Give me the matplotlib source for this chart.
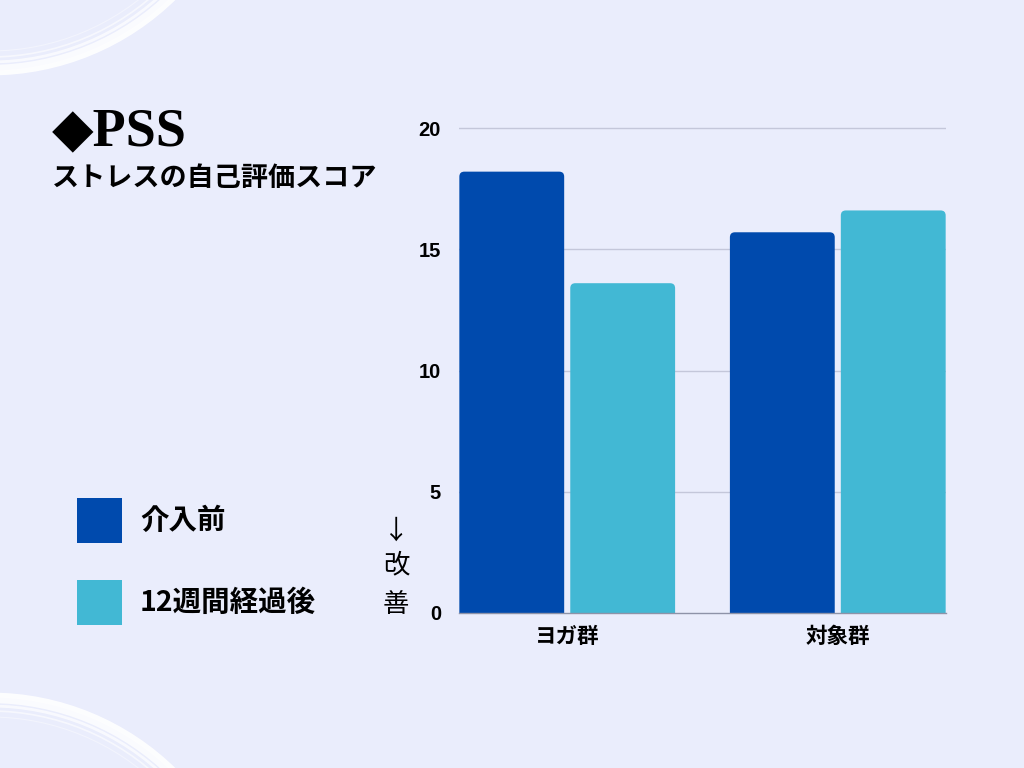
import numpy as np
import matplotlib
matplotlib.use("Agg")
import matplotlib.pyplot as plt
from matplotlib.patches import FancyBboxPatch, Rectangle, Circle

# ---------------- data ----------------
groups = ["ヨガ群", "対象群"]
series_names = ["介入前", "12週間経過後"]
before = [18.2, 15.7]
after = [13.6, 16.6]
yticks = [0, 5, 10, 15, 20]

# ---------------- style ----------------
bg = "#EAEDFC"
c_dark = "#004AAD"
c_light = "#42B8D4"
jp = ["Noto Sans CJK JP", "DejaVu Sans"]
W, H = 1024, 768

plt.rcParams["font.family"] = jp

fig = plt.figure(figsize=(W / 100, H / 100), dpi=100, facecolor=bg)

# decoration (pixel coords)
deco = fig.add_axes([0, 0, 1, 1], zorder=0)
deco.set_xlim(0, W)
deco.set_ylim(H, 0)
deco.axis("off")
for cy in (-190, H + 190):
    for r, lw, a in [(263, 3.5, 0.9), (258, 4.5, 0.8), (252, 2.0, 0.7), (247, 1.2, 0.6), (241, 0.8, 0.4)]:
        deco.add_patch(Circle((-10, cy), r, fill=False, ec="white", lw=lw, alpha=a))


def px(x, y):
    return x / W, 1 - y / H


# ---------------- chart ----------------
ymax = 20.4
ax_left, ax_right, ax_bottom = 459, 946, 613
ax_top = ax_bottom - ymax * 24.25
ax = fig.add_axes([ax_left / W, 1 - ax_bottom / H, (ax_right - ax_left) / W, (ax_bottom - ax_top) / H],
                  zorder=1)
ax.set_facecolor("none")
ax.set_xlim(-0.4, 1.4)
ax.set_ylim(0, ymax)

x = np.arange(len(groups))
bw = 0.3875
off = 0.205

# aspect for round corners
p0 = ax.transData.transform((0, 0))
p1 = ax.transData.transform((1, 1))
asp = (p1[0] - p0[0]) / (p1[1] - p0[1])
rad = 5 / (p1[0] - p0[0])
below = 8 / (p1[1] - p0[1])  # start under the axis so the bottom corners are clipped

for vals, col, sh in [(before, c_dark, -off), (after, c_light, off)]:
    for xi, v in zip(x, vals):
        x0 = xi + sh - bw / 2
        ax.add_patch(FancyBboxPatch((x0, -below), bw, v + below, boxstyle=f"round,pad=0,rounding_size={rad}",
                                    mutation_aspect=asp, fc=col, ec="none", zorder=3))

ax.set_yticks(yticks)
ax.set_yticklabels([str(t) for t in yticks], fontfamily="Liberation Sans", fontweight="bold", fontsize=14.5)
ax.set_xticks(x)
ax.set_xticklabels(groups, fontweight="bold", fontsize=15.5)
ax.tick_params(axis="both", length=0)
ax.tick_params(axis="y", pad=13)
ax.tick_params(axis="x", pad=9)
for yv in yticks[1:]:
    ax.axhline(yv, color="#C4C7DA", lw=1, zorder=1)
for s in ["top", "right", "left"]:
    ax.spines[s].set_visible(False)
ax.spines["bottom"].set_color("#8E93A8")
ax.spines["bottom"].set_linewidth(1)
ax.spines["bottom"].set_zorder(4)

# ---------------- titles ----------------
fig.text(*px(52, 145), "◆PSS", family=["Liberation Serif", "DejaVu Sans"], fontweight="bold",
         fontsize=39, va="baseline", ha="left")
fig.text(*px(52, 178), "ストレスの自己評価スコア", fontweight="bold", fontsize=19.5, va="center", ha="left")

# ---------------- legend ----------------
for i, (name, col) in enumerate(zip(series_names, [c_dark, c_light])):
    ytop = 498 + i * 82
    fig.patches.append(Rectangle(px(77, ytop + 45), 45 / W, 45 / H, fc=col, ec="none",
                                 transform=fig.transFigure, figure=fig))
    fig.text(*px(140, ytop + 23), name, fontweight="bold", fontsize=20.5, va="center", ha="left")

# ---------------- arrow note ----------------
for t, yy in [("↓", 531), ("改", 565), ("善", 605)]:
    fig.text(*px(396, yy), t, fontsize=19, va="center", ha="center")

fig.savefig("out.png", dpi=100, facecolor=bg)
